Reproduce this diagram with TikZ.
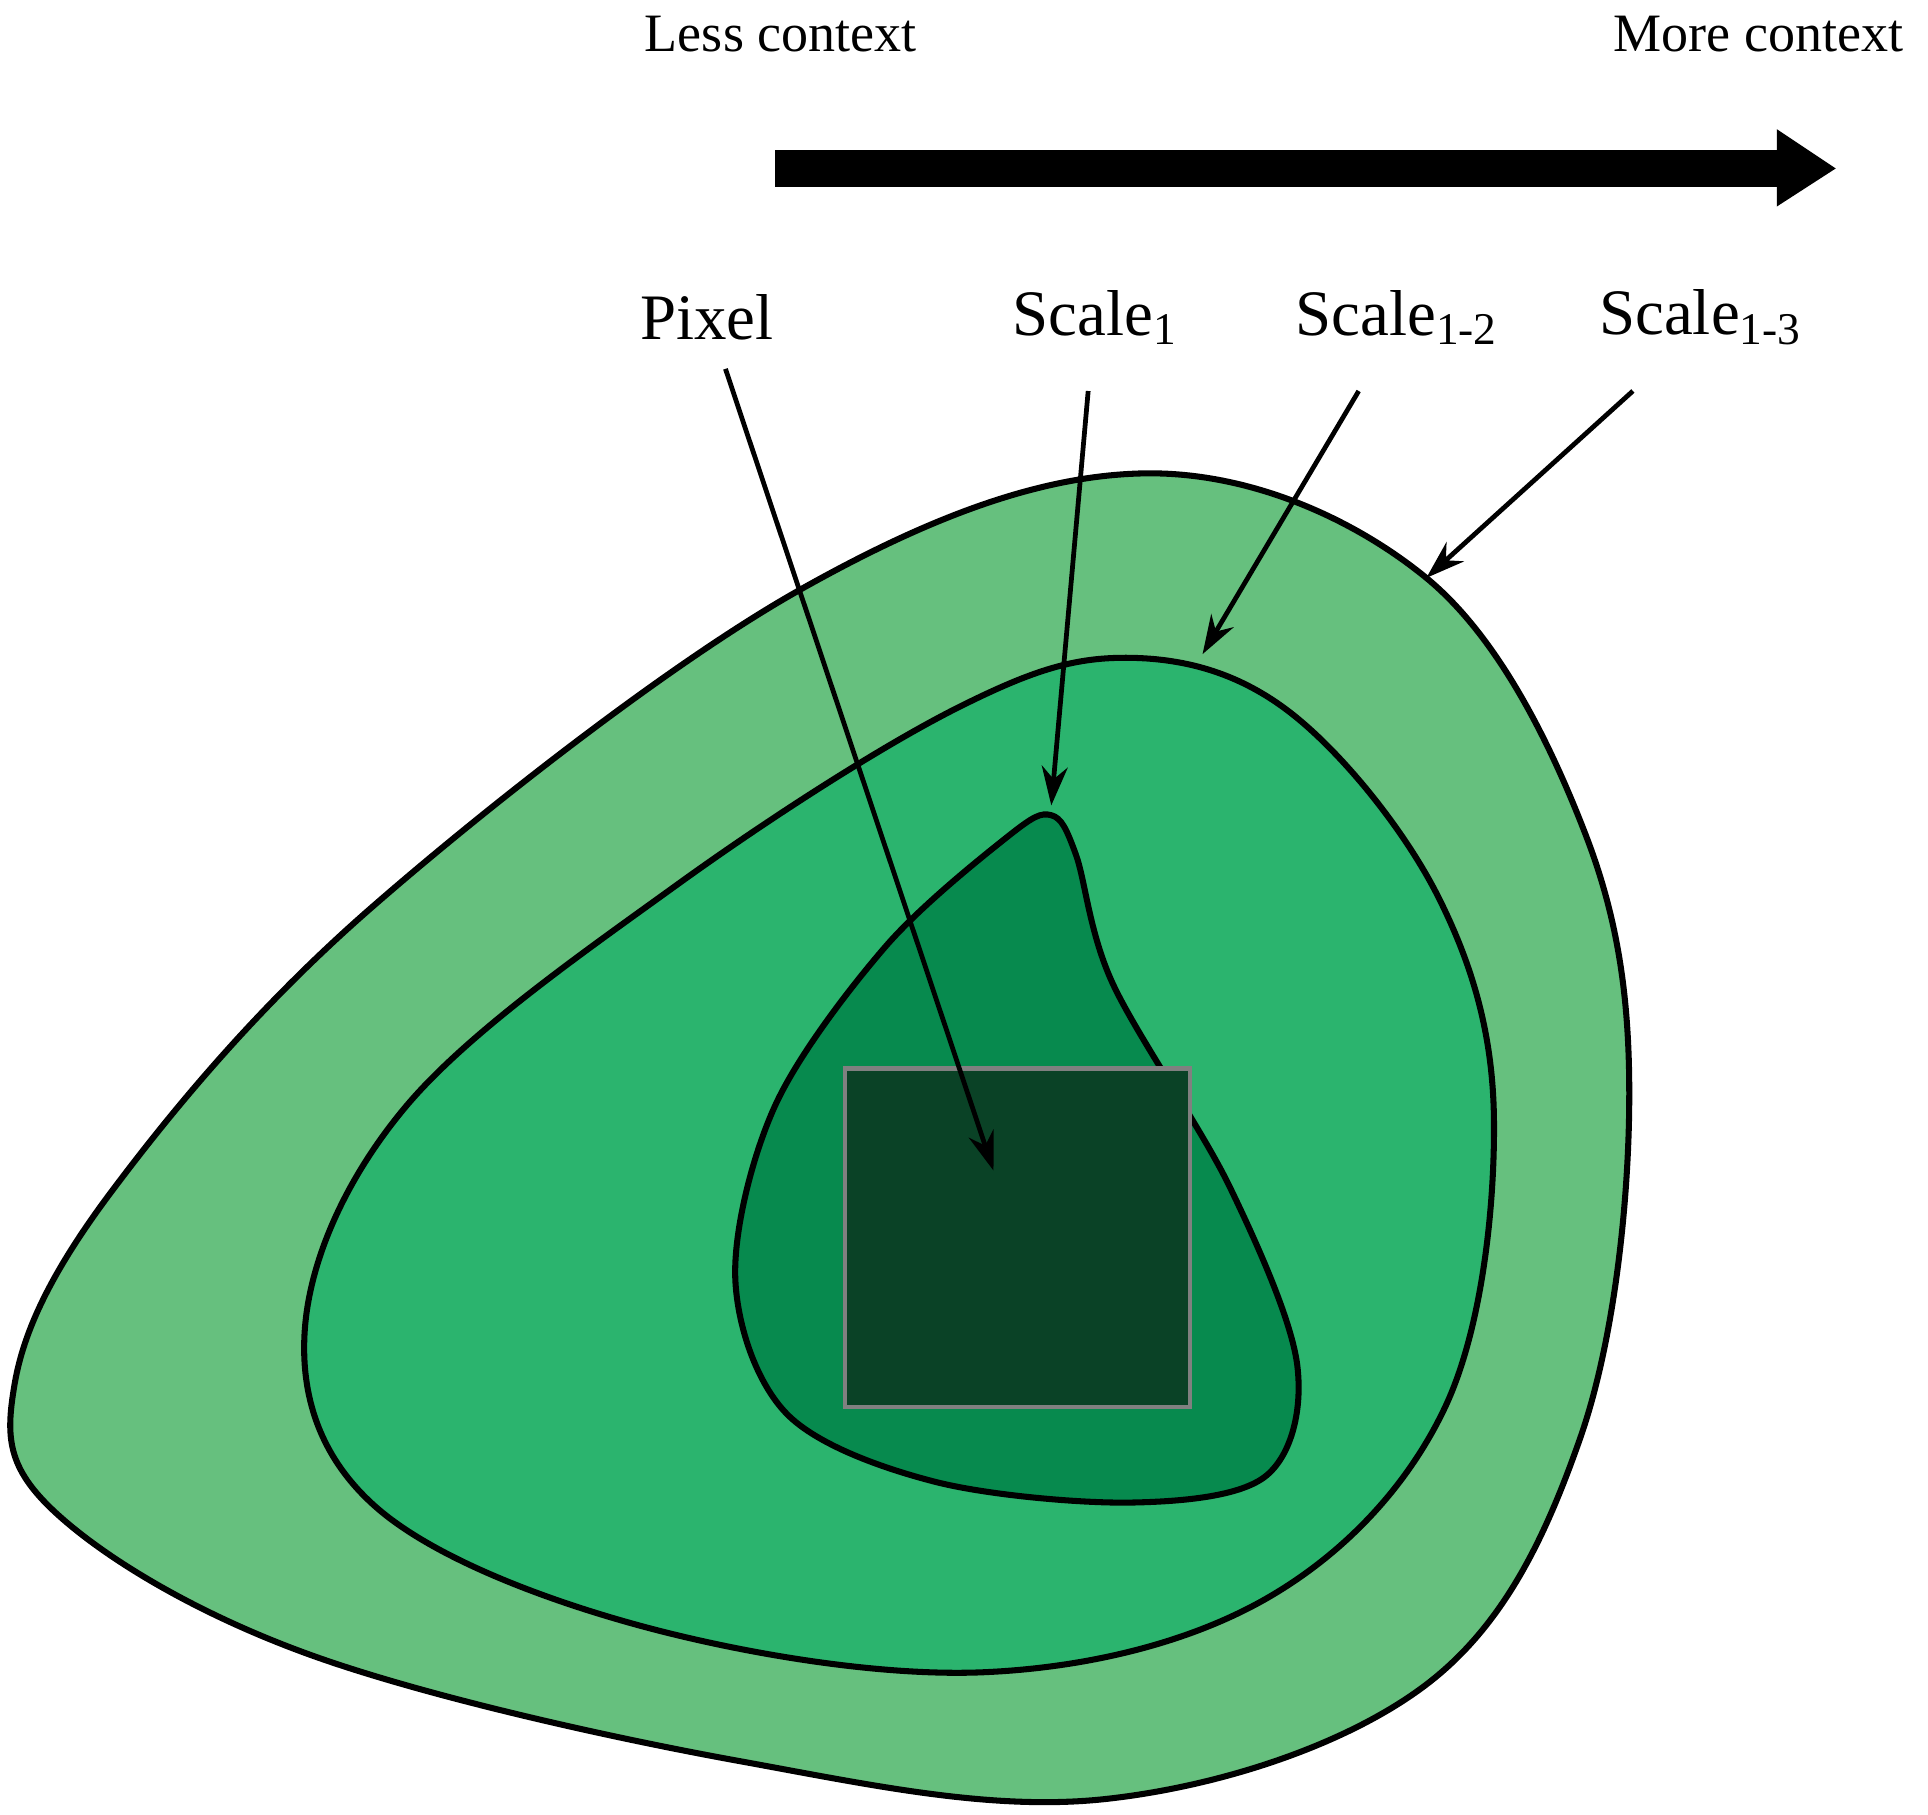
\documentclass[tikz,border=0pt]{standalone}
\usepackage{fontspec}
\setmainfont{Liberation Serif}
\usetikzlibrary{arrows.meta}
\definecolor{gout}{HTML}{66C07E}
\definecolor{gmid}{HTML}{2BB46E}
\definecolor{gin}{HTML}{078A4E}
\definecolor{gpx}{HTML}{0A4226}
\begin{document}
\begin{tikzpicture}[x=0.01cm,y=-0.01cm,
  blob/.style={draw=black,line width=1.4pt},
  lbl/.style={font=\fontsize{15}{18}\selectfont,inner sep=0},
  top/.style={font=\fontsize{12.5}{15}\selectfont,inner sep=0},
  ptr/.style={line width=1.1pt,-{Stealth[length=9pt,width=6pt]}}]
\useasboundingbox (0,0) rectangle (1568,1476);
\draw[blob,fill=gout] plot[smooth cycle,tension=0.6] coordinates{(930,385)(1160,470)(1290,680)(1325,900)(1285,1170)(1160,1370)(900,1463)(600,1432)(250,1345)(45,1230)(12,1125)(90,970)(300,740)(650,480)};
\draw[blob,fill=gmid] plot[smooth cycle,tension=0.6] coordinates{(920,535)(1050,580)(1170,730)(1215,910)(1175,1145)(1030,1300)(800,1360)(520,1322)(305,1225)(248,1080)(330,900)(550,720)(780,575)};
\draw[blob,fill=gin] plot[smooth cycle,tension=0.55] coordinates{(855,663)(875,695)(905,800)(1000,965)(1055,1110)(1030,1200)(920,1222)(760,1205)(640,1150)(598,1040)(630,900)(720,770)(820,680)};
\node[draw=gray,line width=1pt,fill=gpx,minimum width=2.8cm,minimum height=2.75cm,inner sep=0] (px) at (827.5,1006.5) {};
\node[top] (less) at (635,28) {Less context};
\node[top] (more) at (1430,28) {More context};
\coordinate (as) at (630,137); \coordinate (ae) at (1493,137);
\fill (630,122) rectangle (1445,152);
\fill (1445,105) -- (1493,137) -- (1445,168) -- cycle;
\node[lbl] (lp) at (575,258) {Pixel};
\node[lbl,anchor=west] (l1) at (823,258) {Scale\textsubscript{1}};
\node[lbl,anchor=west] (l2) at (1053,258) {Scale\textsubscript{1-2}};
\node[lbl,anchor=west] (l3) at (1300,258) {Scale\textsubscript{1-3}};
\coordinate (s0) at (590,300); \coordinate (e0) at (808,952);
\coordinate (s1) at (885,318); \coordinate (e1) at (855,655);
\coordinate (s2) at (1105,318); \coordinate (e2) at (978,532);
\coordinate (s3) at (1328,318); \coordinate (e3) at (1160,470);
\draw[ptr] (s0) -- (e0);
\draw[ptr] (s1) -- (e1);
\draw[ptr] (s2) -- (e2);
\draw[ptr] (s3) -- (e3);
\end{tikzpicture}
\end{document}
